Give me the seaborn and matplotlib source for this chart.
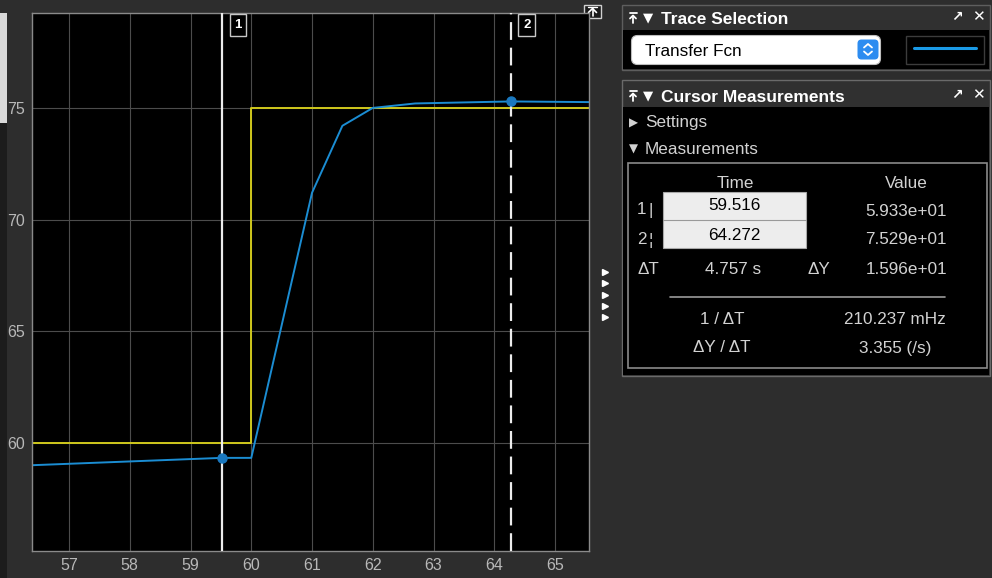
import numpy as np
import pandas as pd
import matplotlib
matplotlib.use("Agg")
import matplotlib.pyplot as plt
from matplotlib.patches import Rectangle, FancyBboxPatch
import seaborn as sns

# ---- signal data -------------------------------------------------------
# step reference (input)
step_t = [56.0, 60.0, 60.0, 66.0]
step_v = [60.0, 60.0, 75.0, 75.0]
# Transfer Fcn output
resp_t = [56.0, 59.516, 60.0, 61.0, 61.5, 62.0, 62.7, 64.272, 66.0]
resp_v = [58.96, 59.33, 59.33, 71.2, 74.2, 75.0, 75.2, 75.29, 75.25]

# cursor positions and the values read at them
cursor_t = [59.516, 64.272]
cursor_v = [59.33, 75.29]
cursor_names = ["1", "2"]

x_ticks = [57, 58, 59, 60, 61, 62, 63, 64, 65]
y_ticks = [60, 65, 70, 75]

# cursor measurement readouts
meas_time = ["59.516", "64.272"]
meas_value = ["5.933e+01", "7.529e+01"]
delta_t = "4.757 s"
delta_y = "1.596e+01"
inv_dt = "210.237 mHz"
slope = "3.355 (/s)"

BG = "#2d2d2d"
TXT = "#d2d2d2"
BLUE = "#1b8dd3"
YELLOW = "#cfc81c"
FONT = ["Liberation Sans", "DejaVu Sans"]
FS = 12.3

sns.set_theme(style="dark")
plt.rcParams["font.family"] = FONT

W, H = 992, 578
fig = plt.figure(figsize=(W / 100, H / 100), dpi=100, facecolor=BG)

# overlay in pixel coordinates for the side panels
ov = fig.add_axes([0, 0, 1, 1], zorder=0)
ov.set_xlim(0, W)
ov.set_ylim(H, 0)
ov.axis("off")
ov.patch.set_alpha(0)

# ---- scope axes ---------------------------------------------------------
L, R, T, B = 32, 589, 13, 551
ax = fig.add_axes([L / W, 1 - B / H, (R - L) / W, (B - T) / H], zorder=2)
ax.set_facecolor("black")

df = pd.DataFrame({
    "t": step_t + resp_t,
    "v": step_v + resp_v,
    "signal": ["Step"] * len(step_t) + ["Transfer Fcn"] * len(resp_t),
})
sns.lineplot(data=df, x="t", y="v", hue="signal",
             palette={"Step": YELLOW, "Transfer Fcn": BLUE},
             sort=False, estimator=None, legend=False, lw=1.4, ax=ax)

ax.set_xlim(56.39, 65.56)
ax.set_ylim(55.16, 79.25)
ax.set_xticks(x_ticks)
ax.set_yticks(y_ticks)
ax.set_xlabel("")
ax.set_ylabel("")
ax.grid(True, color="#4c4c4c", lw=0.8)
ax.tick_params(axis="both", length=0, colors="#b8b8b8", labelsize=11.5,
               pad=5)
for s in ax.spines.values():
    s.set_visible(True)
    s.set_color("#8a8a8a")
    s.set_linewidth(1.0)

# cursors
ax.axvline(cursor_t[0], color="#ececec", lw=1.6, zorder=5)
ax.axvline(cursor_t[1], color="#ececec", lw=1.6, ls=(0, (8, 3.5)), zorder=5)
ax.plot(cursor_t, cursor_v, "o", ms=6.5, color="#1a78bf", zorder=6)
for ct, nm in zip(cursor_t, cursor_names):
    ax.annotate(nm, xy=(ct, 1), xycoords=("data", "axes fraction"),
                xytext=(16, -12), textcoords="offset pixels",
                ha="center", va="center", color="white", fontsize=9.5,
                fontweight="bold",
                bbox=dict(boxstyle="square,pad=0.35", fc="black",
                          ec="#c8c8c8", lw=1.0))

# ---- window chrome ------------------------------------------------------
ov.add_patch(Rectangle((0, 13), 7, 110, fc="#d9d9d9", ec="none"))
ov.add_patch(Rectangle((0, 123), 7, 455, fc="#1c1c1c", ec="none"))
# restore-axes button above the plot corner
ov.add_patch(Rectangle((584, 5), 17, 13, fc="#1a1a1a", ec="#d0d0d0", lw=1))
ov.plot([592.5, 592.5], [9, 16], color="white", lw=1.2)
ov.plot([588.5, 592.5, 596.5], [12.5, 8.5, 12.5], color="white", lw=1.2)
ov.plot([588, 597], [7, 7], color="white", lw=1)

# splitter with collapse arrows
for yy in [272, 283, 295, 306, 317]:
    ov.plot([605], [yy], marker=">", ms=4, color="white", mec="white")


def pin_icon(x, y):
    # undock pin: bar with an upward arrow below it
    ov.plot([x - 3.5, x + 3.5], [y - 5, y - 5], color="white", lw=1.3)
    ov.plot([x, x], [y - 2.5, y + 5], color="white", lw=1.3)
    ov.plot([x - 3, x, x + 3], [y + 0.5, y - 2.5, y + 0.5], color="white",
            lw=1.3)


def panel_header(y, title):
    pin_icon(633, y)
    ov.text(648, y, "\u25bc", color="white", fontsize=9.5, ha="center",
            va="center", family=["DejaVu Sans"])
    ov.text(661, y + 1, title, color="white", fontsize=12.5,
            fontweight="bold", ha="left", va="center")
    ov.text(957, y - 1, "\u2197", color="white", fontsize=10, ha="center",
            va="center", family=["DejaVu Sans"], fontweight="bold")
    ov.text(978, y - 1, "\u2715", color="white", fontsize=11, ha="center",
            va="center", family=["DejaVu Sans"])


# Trace Selection panel
ov.add_patch(Rectangle((622, 5), 368, 65, fc="#303030", ec="#5e5e5e", lw=1))
ov.add_patch(Rectangle((623, 30), 366, 39, fc="black", ec="none"))
panel_header(18, "Trace Selection")
ov.add_patch(FancyBboxPatch((634, 38), 244, 24,
                            boxstyle="round,pad=2.5,rounding_size=6",
                            fc="white", ec="#bdbdbd", lw=0.8))
ov.text(645, 51, "Transfer Fcn", color="black", fontsize=FS,
        ha="left", va="center")
ov.add_patch(FancyBboxPatch((859, 41), 18, 17,
                            boxstyle="round,pad=1.5,rounding_size=4",
                            fc="#2d8cf0", ec="none"))
ov.plot([864, 868, 872], [47.5, 44, 47.5], color="white", lw=1.3)
ov.plot([864, 868, 872], [51.5, 55, 51.5], color="white", lw=1.3)
ov.add_patch(Rectangle((906, 36), 78, 28, fc="black", ec="#3c3c3c", lw=1))
ov.plot([914, 976], [48, 48], color="#1a9ae6", lw=2.2)

# Cursor Measurements panel
ov.add_patch(Rectangle((622, 80), 368, 296, fc="#303030", ec="#6a6a6a", lw=1))
ov.add_patch(Rectangle((623, 107), 366, 268, fc="black", ec="none"))
panel_header(96, "Cursor Measurements")
ov.text(633, 123, "\u25b6", color=TXT, fontsize=8.5, ha="center",
        va="center", family=["DejaVu Sans"])
ov.text(645, 123, "Settings", color=TXT, fontsize=FS, ha="left",
        va="center")
ov.text(633, 149, "\u25bc", color=TXT, fontsize=8.5, ha="center",
        va="center", family=["DejaVu Sans"])
ov.text(645, 149, "Measurements", color=TXT, fontsize=FS, ha="left",
        va="center")
ov.add_patch(Rectangle((628, 163), 359, 205, fc="black", ec="#8a8a8a",
                       lw=1.2))

ov.text(735, 183, "Time", color=TXT, fontsize=FS, ha="center",
        va="center")
ov.text(906, 183, "Value", color=TXT, fontsize=FS, ha="center",
        va="center")
ov.add_patch(Rectangle((663, 192), 143, 56, fc="#ededed", ec="#a8a8a8",
                       lw=0.8))
ov.plot([663, 806], [219.5, 219.5], color="#9a9a9a", lw=0.8)
ov.text(637, 210, "1", color=TXT, fontsize=FS, ha="left", va="center")
ov.text(648, 210, "|", color=TXT, fontsize=FS, ha="left", va="center")
ov.text(637, 240, "2", color=TXT, fontsize=FS, ha="left", va="center")
ov.text(648, 240, "\u00a6", color=TXT, fontsize=FS, ha="left",
        va="center")
ov.text(734, 206, meas_time[0], color="black", fontsize=FS, ha="center",
        va="center")
ov.text(734, 236, meas_time[1], color="black", fontsize=FS, ha="center",
        va="center")
ov.text(947, 211, meas_value[0], color=TXT, fontsize=FS, ha="right",
        va="center")
ov.text(947, 240, meas_value[1], color=TXT, fontsize=FS, ha="right",
        va="center")
ov.text(637, 269, "\u0394T", color=TXT, fontsize=FS, ha="left",
        va="center")
ov.text(733, 269, delta_t, color=TXT, fontsize=FS, ha="center",
        va="center")
ov.text(808, 269, "\u0394Y", color=TXT, fontsize=FS, ha="left",
        va="center")
ov.text(947, 269, delta_y, color=TXT, fontsize=FS, ha="right",
        va="center")
ov.plot([670, 945], [297, 297], color="#9a9a9a", lw=1.2)
ov.text(722, 319, "1 / \u0394T", color=TXT, fontsize=FS, ha="center",
        va="center")
ov.text(946, 319, inv_dt, color=TXT, fontsize=FS, ha="right",
        va="center")
ov.text(722, 348, "\u0394Y / \u0394T", color=TXT, fontsize=FS,
        ha="center", va="center")
ov.text(895, 348, slope, color=TXT, fontsize=FS, ha="center",
        va="center")

fig.savefig("out.png", dpi=100, facecolor=BG)
